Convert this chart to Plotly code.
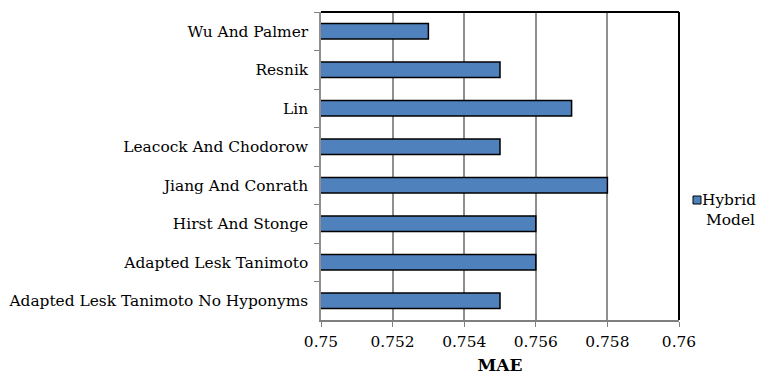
import plotly.graph_objects as go

categories = [
    "Wu And Palmer",
    "Resnik",
    "Lin",
    "Leacock And Chodorow",
    "Jiang And Conrath",
    "Hirst And Stonge",
    "Adapted Lesk Tanimoto",
    "Adapted Lesk Tanimoto No Hyponyms",
]
mae_values = [0.753, 0.755, 0.757, 0.755, 0.758, 0.756, 0.756, 0.755]
x_tick_vals = [0.75, 0.752, 0.754, 0.756, 0.758, 0.76]
x_tick_text = ["0.75", "0.752", "0.754", "0.756", "0.758", "0.76"]
series_name = "Hybrid Model"

FONT = "DejaVu Serif"
FS = 15.4
BAR_COLOR = "#4F81BD"

fig = go.Figure()
fig.add_trace(go.Bar(
    y=categories,
    x=mae_values,
    base=0,
    orientation="h",
    name=series_name,
    marker=dict(color=BAR_COLOR, line=dict(color="black", width=1.5)),
    showlegend=False,
))

fig.update_layout(
    width=761, height=378,
    margin=dict(l=321, r=82, t=12, b=58, pad=0),
    paper_bgcolor="white", plot_bgcolor="white",
    font=dict(family=FONT, size=FS, color="black"),
    bargap=0.6,
    xaxis=dict(
        range=[0.75, 0.76],
        tickvals=x_tick_vals, ticktext=x_tick_text,
        showgrid=True, gridcolor="#8f8f8f", gridwidth=1.5,
        showline=True, linecolor="#7f7f7f", linewidth=1.5,
        ticks="outside", ticklen=5, tickcolor="#7f7f7f", tickwidth=1.2,
        ticklabelstandoff=2,
        zeroline=False, automargin=False,
        title=dict(text="<b>MAE</b>", font=dict(size=17, family=FONT), standoff=9),
        fixedrange=True,
    ),
    yaxis=dict(
        autorange="reversed",
        showgrid=False,
        showline=True, linecolor="#8f8f8f", linewidth=1.5,
        ticks="outside", ticklen=5, tickcolor="#7f7f7f", tickwidth=1.2,
        tickson="boundaries",
        ticklabelstandoff=8, automargin=False,
        fixedrange=True,
    ),
    shapes=[
        dict(type="line", xref="paper", yref="paper", x0=0, x1=1, y0=1, y1=1,
             line=dict(color="black", width=2)),
        dict(type="line", xref="paper", yref="paper", x0=1, x1=1, y0=0, y1=1,
             line=dict(color="black", width=2)),
        # legend swatch
        dict(type="rect", xref="paper", yref="paper",
             x0=(693 - 321) / 358, x1=(701 - 321) / 358,
             y0=(320 - 204) / 308, y1=(320 - 196) / 308,
             fillcolor=BAR_COLOR, line=dict(color="black", width=1)),
    ],
    annotations=[
        dict(text="Hybrid", xref="paper", yref="paper",
             x=(729 - 321) / 358, y=(320 - 200) / 308,
             xanchor="center", yanchor="middle", showarrow=False,
             font=dict(family=FONT, size=FS, color="black")),
        dict(text="Model", xref="paper", yref="paper",
             x=(730.5 - 321) / 358, y=(320 - 220) / 308,
             xanchor="center", yanchor="middle", showarrow=False,
             font=dict(family=FONT, size=FS, color="black")),
    ],
)

fig.write_html("out.html")
